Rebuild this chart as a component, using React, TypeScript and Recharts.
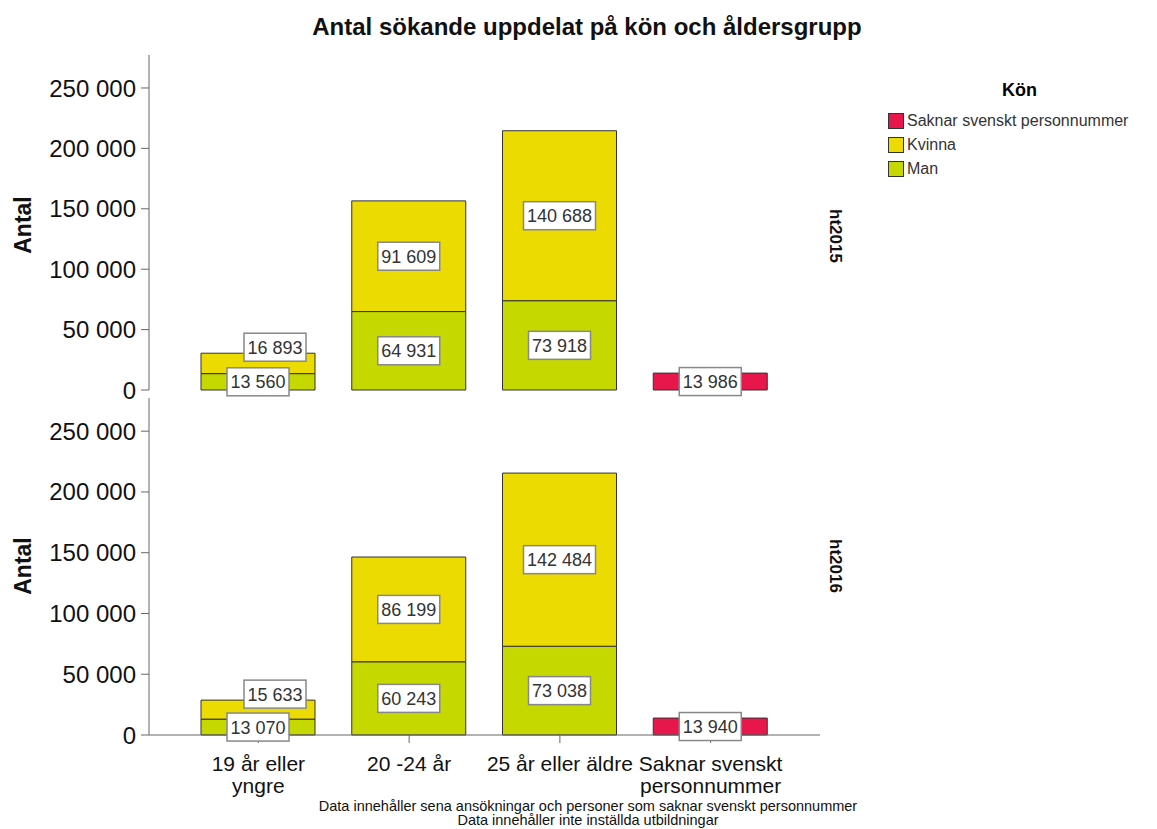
import React from 'react'
import { BarChart, Bar, XAxis, YAxis, LabelList } from 'recharts'

const categories = ['19 år eller yngre', '20 -24 år', '25 år eller äldre', 'Saknar svenskt personnummer']
const tickLines: Record<string, string[]> = {
  '19 år eller yngre': ['19 år eller', 'yngre'],
  '20 -24 år': ['20 -24 år'],
  '25 år eller äldre': ['25 år eller äldre'],
  'Saknar svenskt personnummer': ['Saknar svenskt', 'personnummer'],
}

const man2015 = [13560, 64931, 73918, null]
const kvinna2015 = [16893, 91609, 140688, null]
const saknar2015 = [null, null, null, 13986]

const man2016 = [13070, 60243, 73038, null]
const kvinna2016 = [15633, 86199, 142484, null]
const saknar2016 = [null, null, null, 13940]

const yTicks = [0, 50000, 100000, 150000, 200000, 250000]
const legendItems = [
  { name: 'Saknar svenskt personnummer', color: '#E8174B' },
  { name: 'Kvinna', color: '#ECDB00' },
  { name: 'Man', color: '#C5D800' },
]

const MAN = '#C5D800'
const KVINNA = '#ECDB00'
const SAKNAR = '#E8174B'
const FONT = 'Arial, "Liberation Sans", sans-serif'

const fmt = (v: number) => String(v).replace(/\B(?=(\d{3})+(?!\d))/g, ' ')

const build = (man: (number | null)[], kvinna: (number | null)[], saknar: (number | null)[]) =>
  categories.map((c, i) => ({ name: c, man: man[i], kvinna: kvinna[i], saknar: saknar[i] }))

const data2015 = build(man2015, kvinna2015, saknar2015)
const data2016 = build(man2016, kvinna2016, saknar2016)

function BoxLabel(props: any) {
  const { x, y, width, height, value, lift } = props
  if (value == null) return null
  const text = fmt(Number(value))
  let cx = Number(x) + Number(width) / 2
  let cy = Number(y) + Number(height) / 2
  if (lift && Number(height) < 30) {
    cx += 17
    cy = Number(y) - 6
  }
  const digits = text.replace(/ /g, '').length
  const w = digits * 10 + (text.length - digits) * 5 + 7
  const h = 28
  return (
    <g>
      <rect x={cx - w / 2} y={cy - h / 2} width={w} height={h} fill="#fff" stroke="#888" strokeWidth={1.5} />
      <text x={cx} y={cy + 6.5} textAnchor="middle" fontSize={18} fill="#333" fontFamily={FONT}>
        {text}
      </text>
    </g>
  )
}

function CatTick(props: any) {
  const { x, y, payload } = props
  const lines = tickLines[payload.value] || [payload.value]
  return (
    <g transform={`translate(${x},${y})`}>
      <text textAnchor="middle" fontSize={21} fill="#111" fontFamily={FONT}>
        {lines.map((l, i) => (
          <tspan key={i} x={0} dy={i === 0 ? 26 : 22}>{l}</tspan>
        ))}
      </text>
    </g>
  )
}

function LegendBox() {
  return (
    <div style={{ position: 'absolute', left: 888, top: 80, width: 268, fontFamily: FONT }}>
      <div style={{ fontWeight: 'bold', fontSize: 18, marginLeft: 114, marginBottom: 8 }}>Kön</div>
      {legendItems.map((it) => (
        <div key={it.name} style={{ display: 'flex', alignItems: 'center', height: 24 }}>
          <span style={{ display: 'inline-block', width: 14, height: 14, background: it.color, border: '1px solid #333', marginRight: 3 }} />
          <span style={{ fontSize: 16, color: '#333' }}>{it.name}</span>
        </div>
      ))}
    </div>
  )
}

function Panel({ data, bottom }: { data: any[]; bottom: boolean }) {
  return (
    <BarChart
      width={850}
      height={bottom ? 829 - 390 : 412}
      data={data}
      margin={bottom ? { top: 8, right: 30, left: 0, bottom: 34 } : { top: 55, right: 30, left: 0, bottom: 22 }}
      barSize={114}
    >
      <XAxis
        dataKey="name"
        padding={{ left: 34, right: 34 }}
        height={bottom ? 60 : 0}
        axisLine={{ stroke: '#666' }}
        tickLine={bottom ? { stroke: '#666' } : false}
        tickSize={8}
        tick={bottom ? <CatTick /> : false}
        interval={0}
      />
      <YAxis
        width={149}
        domain={[0, 277300]}
        ticks={yTicks}
        tickFormatter={fmt}
        tickSize={8}
        interval={0}
        axisLine={{ stroke: '#666' }}
        tickLine={{ stroke: '#666' }}
        tick={{ fontSize: 24, fill: '#111', fontFamily: FONT, dx: -3 }}
      />
      <Bar dataKey="man" stackId="a" fill={MAN} stroke="#333" strokeWidth={1} isAnimationActive={false}>
        <LabelList dataKey="man" content={(p: any) => <BoxLabel {...p} />} />
      </Bar>
      <Bar dataKey="kvinna" stackId="a" fill={KVINNA} stroke="#333" strokeWidth={1} isAnimationActive={false}>
        <LabelList dataKey="kvinna" content={(p: any) => <BoxLabel {...p} lift />} />
      </Bar>
      <Bar dataKey="saknar" stackId="a" fill={SAKNAR} stroke="#333" strokeWidth={1} isAnimationActive={false}>
        <LabelList dataKey="saknar" content={(p: any) => <BoxLabel {...p} />} />
      </Bar>
    </BarChart>
  )
}

export default function App() {
  return (
    <div style={{ position: 'absolute', left: 0, top: 0, width: 1157, height: 829, background: '#fff', fontFamily: FONT }}>
      <div style={{ position: 'absolute', left: 0, top: 390 }}>
        <Panel data={data2016} bottom />
      </div>
      <div style={{ position: 'absolute', left: 0, top: 0 }}>
        <Panel data={data2015} bottom={false} />
      </div>
      <LegendBox />
      <svg width={1157} height={829} style={{ position: 'absolute', left: 0, top: 0, pointerEvents: 'none' }}>
        <text x={587} y={35} textAnchor="middle" fontSize={24} fontWeight="bold" fill="#111" fontFamily={FONT}>
          Antal sökande uppdelat på kön och åldersgrupp
        </text>
        <text transform="translate(31,225) rotate(-90)" textAnchor="middle" fontSize={23} fontWeight="bold" fill="#111" fontFamily={FONT}>
          Antal
        </text>
        <text transform="translate(31,566) rotate(-90)" textAnchor="middle" fontSize={23} fontWeight="bold" fill="#111" fontFamily={FONT}>
          Antal
        </text>
        <text transform="translate(830,236) rotate(90)" textAnchor="middle" fontSize={17} fontWeight="bold" fill="#111" fontFamily={FONT}>
          ht2015
        </text>
        <text transform="translate(830,566) rotate(90)" textAnchor="middle" fontSize={17} fontWeight="bold" fill="#111" fontFamily={FONT}>
          ht2016
        </text>
        <text x={588} y={811} textAnchor="middle" fontSize={14.5} fill="#111" fontFamily={FONT}>
          Data innehåller sena ansökningar och personer som saknar svenskt personnummer
        </text>
        <text x={588} y={825} textAnchor="middle" fontSize={14.5} fill="#111" fontFamily={FONT}>
          Data innehåller inte inställda utbildningar
        </text>
      </svg>
    </div>
  )
}
